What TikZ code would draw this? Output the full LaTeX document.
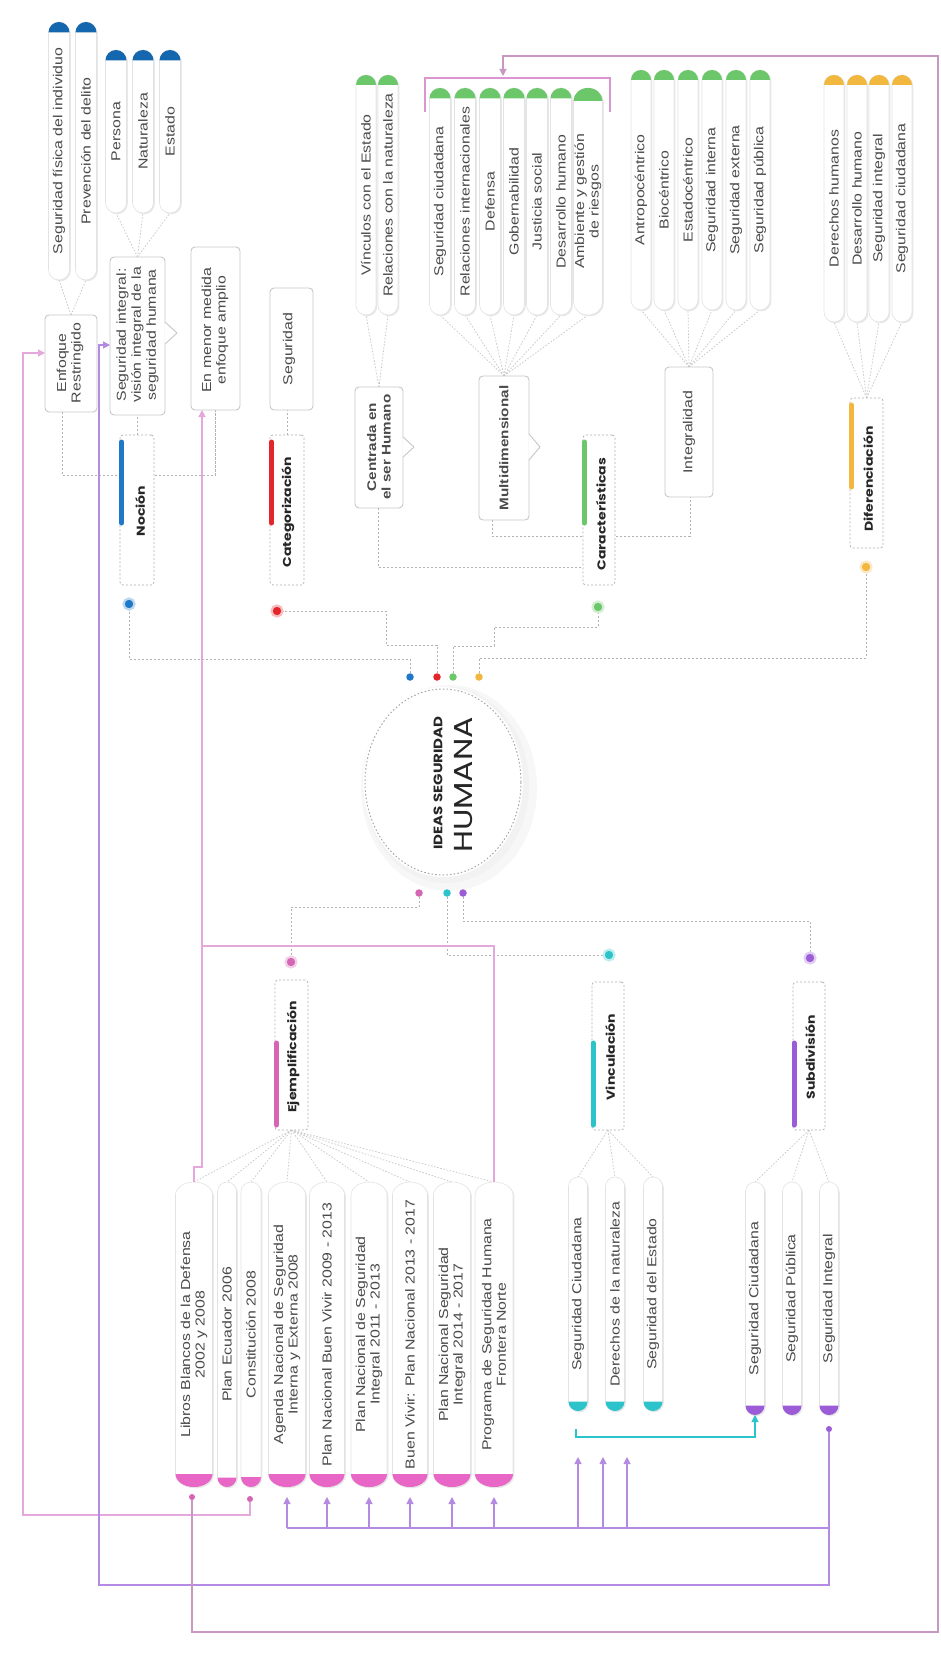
\documentclass[tikz,border=0pt]{standalone}
\usepackage{fontspec}
\setmainfont{Liberation Sans}
\newfontfamily\popfont{Poppins}
\usetikzlibrary{arrows.meta,shapes.geometric,calc}
\pgfdeclarelayer{bg}
\pgfsetlayers{bg,main}
\definecolor{tgray}{HTML}{4A4A4A}
\definecolor{cblue}{HTML}{1F78C8}
\definecolor{capblue}{HTML}{1466AE}
\definecolor{cred}{HTML}{E3262B}
\definecolor{cgreen}{HTML}{6CC76A}
\definecolor{cyellow}{HTML}{F2B73E}
\definecolor{cpink}{HTML}{D466B4}
\definecolor{cappink}{HTML}{E766C6}
\definecolor{cteal}{HTML}{2CC3CB}
\definecolor{cpurple}{HTML}{9C5CD8}
\definecolor{lpink}{HTML}{E5A8DC}
\definecolor{lpurple}{HTML}{B48AE2}
\definecolor{mauve}{HTML}{C898C3}
\definecolor{brpink}{HTML}{D996CF}
\tikzset{
  every node/.style={inner sep=0pt, outer sep=0pt},
  ptxt/.style={rotate=90, xscale=1.22, font=\fontsize{13}{14.5}\selectfont, text=tgray, align=center},
  btxt/.style={ptxt, font=\bfseries\fontsize{12.5}{14.5}\selectfont},
  cattxt/.style={rotate=90, xscale=1.22, font=\popfont\bfseries\fontsize{11.5}{13}\selectfont, text=black!85},
  plainbox/.style={rectangle, draw=black!22, fill=white, line width=0.9pt, rounded corners=4pt},
  catbox/.style={rectangle, draw=black!30, fill=white, line width=0.8pt, dash pattern=on 2pt off 2pt, rounded corners=3pt},
  fan/.style={draw=black!22, line width=0.7pt, dash pattern=on 1.6pt off 1.6pt},
  dsh/.style={draw=black!30, line width=0.8pt, dash pattern=on 2.2pt off 1.8pt},
  bigdot/.style={circle, minimum size=11pt, fill=#1, draw=#1!30, line width=2.2pt},
  smalldot/.style={circle, minimum size=7.5pt, fill=#1},
  tinydot/.style={circle, minimum size=6pt, fill=#1},
  catbar/.style={line width=5pt, line cap=round, draw=#1},
  link/.style={draw=#1, line width=1.1pt},
  arrowhd/.style={-{Triangle[length=7pt,width=7pt]}},
}
% pill: name, xc, ytop, ybot, width, capcolor, t/b, text
\newcommand\pill[8]{%
  \pgfmathsetmacro\pa{#5/2}%
  \pgfmathsetmacro\pr{min(#5/2,13)}%
  \pgfmathsetmacro\pL{#2-\pa}%
  \pgfmathsetmacro\pR{#2+\pa}%
  \pgfmathsetmacro\pT{#3+\pr}%
  \pgfmathsetmacro\pB{#4-\pr}%
  \pgfmathsetmacro\pTk{\pT-0.5523*\pr}%
  \pgfmathsetmacro\pBk{\pB+0.5523*\pr}%
  \pgfmathsetmacro\pxl{#2-0.5523*\pa}%
  \pgfmathsetmacro\pxr{#2+0.5523*\pa}%
  \pgfmathsetmacro\ph{#4-#3}%
  \pgfmathsetmacro\pyc{(#3+#4)/2}%
  \fill[black!9, xshift=1.3pt, yshift=-1.3pt] (\pL,\pB) .. controls (\pL,\pBk) and (\pxl,#4) .. (#2,#4) .. controls (\pxr,#4) and (\pR,\pBk) .. (\pR,\pB) -- (\pR,\pT) .. controls (\pR,\pTk) and (\pxr,#3) .. (#2,#3) .. controls (\pxl,#3) and (\pL,\pTk) .. (\pL,\pT) -- cycle;
  \filldraw[fill=white, draw=black!11, line width=0.6pt] (\pL,\pB) .. controls (\pL,\pBk) and (\pxl,#4) .. (#2,#4) .. controls (\pxr,#4) and (\pR,\pBk) .. (\pR,\pB) -- (\pR,\pT) .. controls (\pR,\pTk) and (\pxr,#3) .. (#2,#3) .. controls (\pxl,#3) and (\pL,\pTk) .. (\pL,\pT) -- cycle;
  \if#7t
    \fill[#6] (\pR,\pT) .. controls (\pR,\pTk) and (\pxr,#3) .. (#2,#3) .. controls (\pxl,#3) and (\pL,\pTk) .. (\pL,\pT) -- cycle;
  \else
    \fill[#6] (\pL,\pB) .. controls (\pL,\pBk) and (\pxl,#4) .. (#2,#4) .. controls (\pxr,#4) and (\pR,\pBk) .. (\pR,\pB) -- cycle;
  \fi
  \node[minimum width=#5pt, minimum height=\ph pt] (#1) at (#2,\pyc) {};
  \node[ptxt] (#1t) at (#2,\pyc) {#8};
}
% box: name, x1, y1, x2, y2, style
\newcommand\bx[6]{%
  \pgfmathsetmacro\bw{#4-#2}\pgfmathsetmacro\bh{#5-#3}%
  \pgfmathsetmacro\bxc{(#2+#4)/2}\pgfmathsetmacro\byc{(#3+#5)/2}%
  \node[#6, minimum width=\bw pt, minimum height=\bh pt] (#1) at (\bxc,\byc) {};}
% notch: x, y, length, half height
\newcommand\notch[4]{%
  \fill[white] (#1-0.6,#2-#4) -- (#1+#3,#2) -- (#1-0.6,#2+#4) -- cycle;
  \draw[draw=black!22, line width=0.9pt, line join=round] (#1,#2-#4) -- (#1+#3,#2) -- (#1,#2+#4);}
\begin{document}
\begin{tikzpicture}[x=1pt,y=-1pt]
\useasboundingbox (0,0) rectangle (940,1672);
\begin{pgfonlayer}{bg}
\fill[white] (0,0) rectangle (940,1672);
\end{pgfonlayer}

% ---------- pills: Noción
\pill{n1a}{59}{22}{280}{21}{capblue}{t}{Seguridad física del individuo}
\pill{n1b}{86}{22}{280}{21}{capblue}{t}{Prevención del delito}
\pill{n2a}{116}{50}{213}{21}{capblue}{t}{Persona}
\pill{n2b}{143}{50}{213}{21}{capblue}{t}{Naturaleza}
\pill{n2c}{170}{50}{213}{21}{capblue}{t}{Estado}
% Centrada
\pill{c1a}{366}{75}{315}{20}{cgreen}{t}{Vínculos con el Estado}
\pill{c1b}{388}{75}{315}{20}{cgreen}{t}{Relaciones con la naturaleza}
% Multidimensional
\pill{m1}{440}{88}{315}{21}{cgreen}{t}{Seguridad ciudadana}
\pill{m2}{465}{88}{315}{21}{cgreen}{t}{Relaciones internacionales}
\pill{m3}{490}{88}{315}{21}{cgreen}{t}{Defensa}
\pill{m4}{514}{88}{315}{21}{cgreen}{t}{Gobernabilidad}
\pill{m5}{537}{88}{315}{21}{cgreen}{t}{Justicia social}
\pill{m6}{561}{88}{315}{21}{cgreen}{t}{Desarrollo humano}
\pill{m7}{588}{88}{315}{29}{cgreen}{t}{Ambiente y gestión\\de riesgos}
% Integralidad
\pill{i1}{641}{70}{310}{20}{cgreen}{t}{Antropocéntrico}
\pill{i2}{664}{70}{310}{20}{cgreen}{t}{Biocéntrico}
\pill{i3}{688}{70}{310}{20}{cgreen}{t}{Estadocéntrico}
\pill{i4}{712}{70}{310}{20}{cgreen}{t}{Seguridad interna}
\pill{i5}{736}{70}{310}{20}{cgreen}{t}{Seguridad externa}
\pill{i6}{760}{70}{310}{20}{cgreen}{t}{Seguridad pública}
% Diferenciación
\pill{d1}{834}{75}{322}{20}{cyellow}{t}{Derechos humanos}
\pill{d2}{857}{75}{322}{20}{cyellow}{t}{Desarrollo humano}
\pill{d3}{879}{75}{322}{20}{cyellow}{t}{Seguridad integral}
\pill{d4}{902}{75}{322}{20}{cyellow}{t}{Seguridad ciudadana}
% Ejemplificación
\pill{e1}{194}{1182}{1487}{37}{cappink}{b}{Libros Blancos de la Defensa\\2002 y 2008}
\pill{e2}{227}{1182}{1487}{19}{cappink}{b}{Plan Ecuador 2006}
\pill{e3}{251}{1182}{1487}{20}{cappink}{b}{Constitución 2008}
\pill{e4}{287}{1182}{1487}{37}{cappink}{b}{Agenda Nacional de Seguridad\\Interna y Externa 2008}
\pill{e5}{327}{1182}{1487}{35}{cappink}{b}{Plan Nacional Buen Vivir 2009 - 2013}
\pill{e6}{369}{1182}{1487}{36}{cappink}{b}{Plan Nacional de Seguridad\\Integral 2011 - 2013}
\pill{e7}{410}{1182}{1487}{35}{cappink}{b}{Buen Vivir: Plan Nacional 2013 - 2017}
\pill{e8}{452}{1182}{1487}{37}{cappink}{b}{Plan Nacional Seguridad\\Integral 2014 - 2017}
\pill{e9}{494}{1182}{1487}{38}{cappink}{b}{Programa de Seguridad Humana\\Frontera Norte}
% Vinculación
\pill{v1}{578}{1177}{1411}{19}{cteal}{b}{Seguridad Ciudadana}
\pill{v2}{615}{1177}{1411}{19}{cteal}{b}{Derechos de la naturaleza}
\pill{v3}{653}{1177}{1411}{19}{cteal}{b}{Seguridad del Estado}
% Subdivisión
\pill{s1}{755}{1182}{1415}{19}{cpurple}{b}{Seguridad Ciudadana}
\pill{s2}{792}{1182}{1415}{19}{cpurple}{b}{Seguridad Pública}
\pill{s3}{829}{1182}{1415}{19}{cpurple}{b}{Seguridad Integral}

% ---------- plain boxes
\bx{enf}{45}{315}{97}{412}{plainbox}
\node[ptxt] (enft) at (70,363) {Enfoque\\Restringido};
\bx{sei}{110}{257}{165}{415}{plainbox}
\notch{165}{333}{12}{11}
\node[ptxt, font=\fontsize{13}{15}\selectfont] (seit) at (137.5,335) {Seguridad integral:\\visión integral de la\\seguridad humana};
\bx{men}{191}{247}{240}{410}{plainbox}
\node[ptxt] (ment) at (215,330) {En menor medida\\enfoque amplio};
\bx{segb}{270}{288}{313}{410}{plainbox}
\node[ptxt] (segbt) at (289,349) {Seguridad};
\bx{cen}{355}{387}{403}{508}{plainbox}
\notch{403}{447}{11}{10}
\node[btxt] (cent) at (379,447) {Centrada en\\el ser Humano};
\bx{mul}{479}{376}{529}{520}{plainbox}
\notch{529}{447}{11}{13}
\node[btxt] (mult) at (504,448) {Multidimensional};
\bx{itg}{665}{367}{713}{497}{plainbox}
\node[ptxt] (itgt) at (689,432) {Integralidad};

% ---------- category boxes
\bx{noc}{120}{435}{154}{585}{catbox}
\draw[catbar=cblue] (121.5,442) -- (121.5,523);
\node[cattxt] (noct) at (140,511) {Noción};
\bx{cat}{270}{435}{304}{585}{catbox}
\draw[catbar=cred] (271.5,442) -- (271.5,523);
\node[cattxt] (catt) at (288,512) {Categorización};
\bx{car}{583}{435}{615}{585}{catbox}
\draw[catbar=cgreen] (584.5,442) -- (584.5,523);
\node[cattxt] (cart) at (601,514) {Características};
\bx{dif}{850}{398}{883}{548}{catbox}
\draw[catbar=cyellow] (851.5,405) -- (851.5,487);
\node[cattxt] (dift) at (868,479) {Diferenciación};
\bx{ej}{275}{980}{308}{1130}{catbox}
\draw[catbar=cpink] (276.5,1043) -- (276.5,1125);
\node[cattxt] (ejt) at (293,1057) {Ejemplificación};
\bx{vin}{592}{982}{624}{1130}{catbox}
\draw[catbar=cteal] (593,1043) -- (593,1125);
\node[cattxt] (vint) at (610,1057) {Vinculación};
\bx{sub}{793}{982}{825}{1130}{catbox}
\draw[catbar=cpurple] (794,1043) -- (794,1125);
\node[cattxt] (subt) at (810,1057) {Subdivisión};

% ---------- center
\fill[black!3] (449,788) ellipse (88pt and 103pt);
\fill[black!5] (446,785) ellipse (83pt and 98pt);
\node[ellipse, fill=white, minimum width=160pt, minimum height=190pt] (ctr) at (443,782) {};
\draw[black!35, line width=1pt, dash pattern=on 1.5pt off 2.2pt] (ctr.center) ellipse (78pt and 93pt);
\node[rotate=90, xscale=1.22, font=\popfont\bfseries\fontsize{12.3}{14}\selectfont, text=black!85] (ct1) at (438,783) {IDEAS SEGURIDAD};
\node[rotate=90, xscale=1.22, font=\popfont\fontsize{26}{28}\selectfont, text=black!85] (ct2) at (464,785) {HUMANA};

% ---------- dots
\node[smalldot=cblue] (sB) at (410,677) {};
\node[smalldot=cred] (sR) at (437,677) {};
\node[smalldot=cgreen] (sG) at (453,677) {};
\node[smalldot=cyellow] (sY) at (479,677) {};
\node[smalldot=cpink] (sP) at (419,893) {};
\node[smalldot=cteal] (sT) at (447,893) {};
\node[smalldot=cpurple] (sU) at (463,893) {};
\node[bigdot=cblue] (dN) at (129,604) {};
\node[bigdot=cred] (dR) at (277,611) {};
\node[bigdot=cgreen] (dG) at (598,607) {};
\node[bigdot=cyellow] (dY) at (866,567) {};
\node[bigdot=cpink] (dP) at (291,962) {};
\node[bigdot=cteal] (dT) at (609,955) {};
\node[bigdot=cpurple] (dU) at (810,958) {};
\node[tinydot=cpink] (e1d) at (192,1497) {};
\node[tinydot=cpink] (e3d) at (250,1499) {};
\node[tinydot=cpurple] (s3d) at (829,1429) {};
\coordinate (brk) at (503,76);

% ---------- dashed connectors (behind)
\begin{pgfonlayer}{bg}
\foreach \n in {n1a,n1b} \draw[fan] (enf.north) -- (\n.south);
\foreach \n in {n2a,n2b,n2c} \draw[fan] (sei.north) -- (\n.south);
\foreach \n in {c1a,c1b} \draw[fan] (cen.north) -- (\n.south);
\foreach \n in {m1,m2,m3,m4,m5,m6,m7} \draw[fan] (mul.north) -- (\n.south);
\foreach \n in {i1,i2,i3,i4,i5,i6} \draw[fan] (itg.north) -- (\n.south);
\foreach \n in {d1,d2,d3,d4} \draw[fan] (dif.north) -- (\n.south);
\foreach \n in {e1,e2,e3,e4,e5,e6,e7,e8,e9} \draw[fan] (ej.south) -- (\n.north);
\foreach \n in {v1,v2,v3} \draw[fan] (vin.south) -- (\n.north);
\foreach \n in {s1,s2,s3} \draw[fan] (sub.south) -- (\n.north);
\draw[dsh] (noc.north) -- (noc.north |- sei.south);
\draw[dsh] (enf.south -| 62,0) -- (62,475) -- (men.south |- 0,475) -- (men.south);
\draw[dsh] (cat.north) -- (cat.north |- segb.south);
\draw[dsh] (mul.south -| 492,0) -- (492,536) -- (690,536) -- (itg.south -| 690,0);
\draw[dsh] (cen.south -| 378,0) -- (378,567) -- (car.west |- 0,567);
\draw[dsh] (sB) -- (sB |- 0,659) -- (dN |- 0,659) -- (dN);
\draw[dsh] (sR) -- (sR |- 0,645) -- (386,645) -- (386,611) -- (dR);
\draw[dsh] (sG) -- (sG |- 0,646) -- (494,646) -- (494,627) -- (dG |- 0,627) -- (dG);
\draw[dsh] (sY) -- (sY |- 0,658) -- (dY |- 0,658) -- (dY);
\draw[dsh] (sP) -- (sP |- 0,907) -- (dP |- 0,907) -- (dP);
\draw[dsh] (sT) -- (sT |- 0,955) -- (dT);
\draw[dsh] (sU) -- (sU |- 0,921) -- (dU |- 0,921) -- (dU);
\end{pgfonlayer}

% ---------- coloured links
\draw[link=lpink, arrowhd] (e3d) -- (e3d |- 0,1515) -- (23,1515) -- (23,353) -- (enf.west |- 0,353);
\draw[link=lpurple, arrowhd] (s3d) -- (s3d |- 0,1585) -- (99,1585) -- (99,345) -- (sei.west |- 0,345);
\draw[link=lpurple] (s3d |- 0,1528) -- (e4.south |- 0,1528);
\foreach \n in {e4,e5,e6,e7,e8,e9} \draw[link=lpurple, arrowhd] (\n.south |- 0,1528) -- ($(\n.south)+(0,10)$);
\draw[link=lpurple, arrowhd] ($(v1.south)+(0,117)$) -- ($(v1.south)+(0,46)$);
\draw[link=lpurple, arrowhd] ($(v2.south)+(-12,117)$) -- ($(v2.south)+(-12,46)$);
\draw[link=lpurple, arrowhd] ($(v3.south)+(-26,117)$) -- ($(v3.south)+(-26,46)$);
\draw[link=lpink, arrowhd] (e1.north) -- (e1.north |- 0,1167) -- (202,1167) -- (men.south -| 202,0);
\draw[link=lpink] (e9.north) -- (e9.north |- 0,946) -- (202,946);
\draw[link=mauve, arrowhd] (e1d) -- (e1d |- 0,1632) -- (938,1632) -- (938,56) -- (brk |- 0,56) -- (brk);
\draw[link=brpink] (425,112) -- (425,78) -- (610,78) -- (610,112);
\draw[link=cteal, arrowhd] ($(v1.south)+(-2,18)$) -- ++(0,8) -| (s1.south);
\end{tikzpicture}
\end{document}
